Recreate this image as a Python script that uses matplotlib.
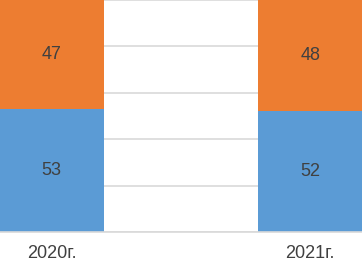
import matplotlib.pyplot as plt
import numpy as np

# данные
years = ['2020г.', '2021г.']
blue_vals = [53, 52]
orange_vals = [47, 48]

plt.rcParams['font.family'] = ['Liberation Sans', 'DejaVu Sans']

fig = plt.figure(figsize=(3.62, 2.62), dpi=100)
ax = fig.add_axes([0, 1 - 232 / 262, 1, 232 / 262])

x = np.arange(len(years))
w = 0.405
ax.bar(x, blue_vals, w, color='#5B9BD5', zorder=2)
ax.bar(x, orange_vals, w, bottom=blue_vals, color='#ED7D31', zorder=2)

for i in range(len(years)):
    ax.text(x[i], blue_vals[i] / 2, str(blue_vals[i]), ha='center', va='center',
            fontsize=13, color='#404040', zorder=3)
    ax.text(x[i], blue_vals[i] + orange_vals[i] / 2, str(orange_vals[i]), ha='center',
            va='center', fontsize=13, color='#404040', zorder=3)

ax.set_xlim(-0.2, 1.2)
ax.set_ylim(0, 100)
ax.set_yticks([0, 20, 40, 60, 80, 100])
ax.yaxis.grid(True, color='#D9D9D9', linewidth=1.2, zorder=0)
ax.set_yticklabels([])
ax.tick_params(axis='y', length=0)
ax.set_xticks(x)
ax.set_xticklabels(years, fontsize=13, color='#404040')
ax.tick_params(axis='x', length=0, pad=9)
for s in ['top', 'left', 'right']:
    ax.spines[s].set_visible(False)
ax.spines['bottom'].set_color('#D9D9D9')
ax.spines['bottom'].set_linewidth(1.2)

fig.savefig('out.png', dpi=100)
